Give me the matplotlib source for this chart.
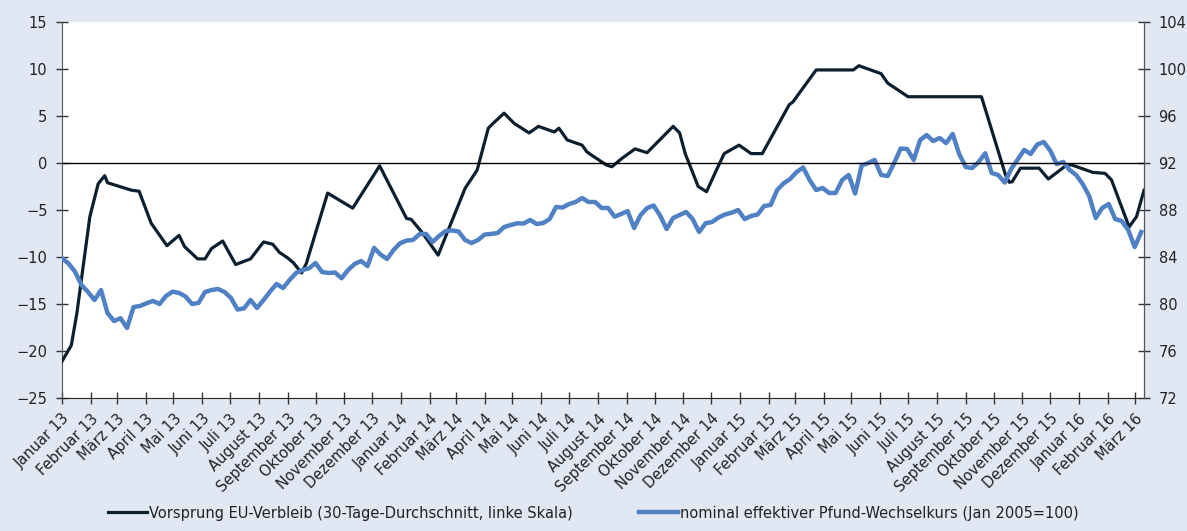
import matplotlib
matplotlib.use("Agg")
import matplotlib.pyplot as plt
import matplotlib.dates as mdates
import pandas as pd
import numpy as np

# ---------------- data ----------------
lead_dates = ["2013-01-01", "2013-01-11", "2013-01-17", "2013-01-31", "2013-02-09", "2013-02-16",
              "2013-02-19", "2013-03-17", "2013-03-25", "2013-04-07", "2013-04-24", "2013-05-07",
              "2013-05-13", "2013-05-27", "2013-06-04", "2013-06-11", "2013-06-23", "2013-07-07",
              "2013-07-23", "2013-08-06", "2013-08-16", "2013-08-23", "2013-09-01", "2013-09-07",
              "2013-09-16", "2013-09-21", "2013-10-14", "2013-11-10", "2013-12-09", "2014-01-07",
              "2014-01-12", "2014-01-23", "2014-02-10", "2014-02-21", "2014-03-11", "2014-03-24",
              "2014-04-05", "2014-04-10", "2014-04-22", "2014-05-03", "2014-05-19", "2014-05-29",
              "2014-06-15", "2014-06-20", "2014-06-29", "2014-07-15", "2014-07-20", "2014-07-25",
              "2014-08-10", "2014-08-16", "2014-08-27", "2014-09-10", "2014-09-23", "2014-10-21",
              "2014-10-28", "2014-11-03", "2014-11-17", "2014-11-26", "2014-12-05", "2014-12-15",
              "2014-12-31", "2015-01-13", "2015-01-25", "2015-02-23", "2015-02-27", "2015-03-24",
              "2015-05-03", "2015-05-09", "2015-06-02", "2015-06-09", "2015-07-01", "2015-09-18",
              "2015-10-14", "2015-10-18", "2015-10-21", "2015-10-30", "2015-11-19", "2015-11-29",
              "2015-12-19", "2015-12-24", "2016-01-16", "2016-01-29", "2016-02-05", "2016-02-24",
              "2016-03-03", "2016-03-11"]
lead_values = [-21.1, -19.4, -16.0, -5.7, -2.2, -1.35,
               -2.1, -2.9, -3.0, -6.4, -8.8, -7.7,
               -8.9, -10.2, -10.2, -9.1, -8.3, -10.8,
               -10.2, -8.4, -8.65, -9.5, -10.1, -10.6,
               -11.7, -10.7, -3.2, -4.8, -0.3, -5.9,
               -6.0, -7.3, -9.8, -7.1, -2.7, -0.75,
               3.7, 4.2, 5.3, 4.2, 3.2, 3.9,
               3.3, 3.7, 2.45, 1.9, 1.2, 0.85,
               -0.2, -0.4, 0.5, 1.5, 1.1, 3.9,
               3.2, 1.0, -2.5, -3.05, -1.1, 1.0,
               1.9, 1.0, 1.0, 6.2, 6.5, 9.9,
               9.9, 10.35, 9.5, 8.5, 7.05, 7.05,
               -1.3, -2.05, -2.0, -0.55, -0.55, -1.7,
               -0.2, -0.2, -1.0, -1.1, -1.8, -6.8,
               -5.7, -2.9]

# weekly readings of the nominal effective pound exchange rate, from 2013-01-01
fx_start = "2013-01-01"
fx_values = [83.89, 83.45, 82.75, 81.62, 81.02, 80.34, 81.19, 79.23, 78.55, 78.79,
             77.96, 79.74, 79.83, 80.06, 80.26, 80.00, 80.68, 81.05, 80.94, 80.64,
             80.00, 80.09, 81.02, 81.19, 81.28, 81.02, 80.51, 79.53, 79.63, 80.34,
             79.66, 80.34, 81.05, 81.70, 81.36, 82.04, 82.64, 82.89, 83.04, 83.49,
             82.72, 82.64, 82.68, 82.19, 82.89, 83.40, 83.66, 83.23, 84.77, 84.21,
             83.83, 84.60, 85.17, 85.40, 85.45, 85.96, 85.96, 85.28, 85.79, 86.21,
             86.26, 86.17, 85.45, 85.19, 85.45, 85.91, 85.96, 86.04, 86.55, 86.72,
             86.87, 86.85, 87.15, 86.81, 86.89, 87.23, 88.26, 88.21, 88.51, 88.68,
             89.02, 88.68, 88.68, 88.17, 88.17, 87.43, 87.66, 87.91, 86.47, 87.57,
             88.17, 88.38, 87.53, 86.38, 87.32, 87.57, 87.83, 87.23, 86.13, 86.87,
             86.98, 87.36, 87.62, 87.77, 88.00, 87.23, 87.49, 87.62, 88.34, 88.43,
             89.70, 90.27, 90.64, 91.23, 91.62, 90.55, 89.70, 89.87, 89.45, 89.45,
             90.55, 90.98, 89.40, 91.79, 92.00, 92.26, 90.98, 90.89, 92.00, 93.23,
             93.19, 92.26, 93.96, 94.38, 93.87, 94.13, 93.70, 94.47, 92.77, 91.66,
             91.57, 92.09, 92.83, 91.15, 90.98, 90.34, 91.49, 92.30, 93.11, 92.77,
             93.57, 93.79, 93.06, 91.91, 92.09, 91.40, 90.98, 90.21, 89.19, 87.32,
             88.17, 88.51, 87.23, 87.06, 86.30, 84.85, 86.13]

month_names = ["Januar", "Februar", "März", "April", "Mai", "Juni", "Juli", "August",
               "September", "Oktober", "November", "Dezember"]
x_start, x_end = "2013-01-01", "2016-03-11"

left_ticks = [15, 10, 5, 0, -5, -10, -15, -20, -25]
right_ticks = [104, 100, 96, 92, 88, 84, 80, 76, 72]

label_lead = "Vorsprung EU-Verbleib (30-Tage-Durchschnitt, linke Skala)"
label_fx = "nominal effektiver Pfund-Wechselkurs (Jan 2005=100)"

# ---------------- plot ----------------
plt.rcParams['font.family'] = ['DejaVu Sans']
bg = "#E1E8F4"
dark = "#0C1F2E"
blue = "#4F81C4"
txt = "#222222"

fig = plt.figure(figsize=(11.87, 5.31), dpi=100, facecolor=bg)
ax = fig.add_axes([62/1187, 1-398/531, (1144-62)/1187, (398-22)/531])
ax.set_facecolor("white")
ax2 = ax.twinx()

lead_x = pd.to_datetime(lead_dates)
fx_x = pd.date_range(fx_start, periods=len(fx_values), freq="7D")

ln1, = ax.plot(lead_x, lead_values, color=dark, lw=2.3, solid_joinstyle="round", zorder=3)
ln2, = ax2.plot(fx_x, fx_values, color=blue, lw=3.2, solid_joinstyle="round", zorder=3)
ax2.axhline(92, color="black", lw=1.0, zorder=5)

ax.set_ylim(-25, 15)
ax2.set_ylim(72, 104)
ax.set_yticks(left_ticks)
ax2.set_yticks(right_ticks)
ax.set_xlim(pd.Timestamp(x_start), pd.Timestamp(x_end))

ax.xaxis.set_major_locator(mdates.MonthLocator())
ticks = pd.date_range("2013-01-01", "2016-03-01", freq="MS")
ax.set_xticks(ticks)
ax.set_xticklabels([f"{month_names[t.month-1]} {t.year % 100:02d}" for t in ticks],
                   rotation=45, ha="right", rotation_mode="anchor", fontsize=10, color=txt)

for a in (ax, ax2):
    a.spines["top"].set_visible(False)
    a.tick_params(direction="inout", length=9, width=1, colors="#333333", labelcolor=txt, labelsize=10.5)
ax.spines["left"].set_color("#555555")
ax.spines["bottom"].set_color("#222222")
ax2.spines["right"].set_color("#555555")
ax2.spines["left"].set_visible(False)
ax2.spines["bottom"].set_visible(False)
ax.tick_params(axis="y", pad=6)
ax2.tick_params(axis="y", pad=6)
ax.tick_params(axis="x", pad=5)

fig.legend([ln1, ln2], [label_lead, label_fx], loc="lower center", bbox_to_anchor=(0.5, -0.005),
           ncol=2, frameon=False, fontsize=10.5, handlelength=2.7, handletextpad=0.15,
           columnspacing=4.5, labelcolor=txt)

fig.savefig("out.png", dpi=100, facecolor=bg)
